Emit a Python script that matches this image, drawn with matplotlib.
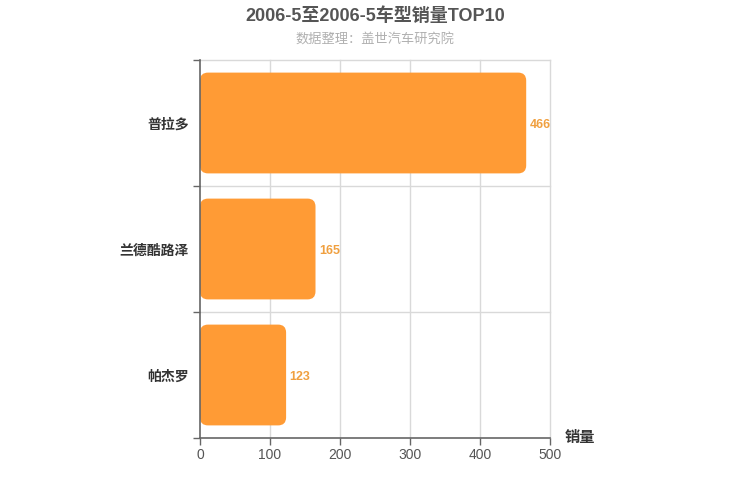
import matplotlib
matplotlib.use("Agg")
import matplotlib.pyplot as plt
from matplotlib.patches import FancyBboxPatch

plt.rcParams['font.family'] = ['Liberation Sans', 'Noto Sans CJK SC', 'DejaVu Sans']

models = ['普拉多', '兰德酷路泽', '帕杰罗']
sales = [466, 165, 123]
xticks = [0, 100, 200, 300, 400, 500]

bar_color = '#ff9b35'
label_color = '#f0a040'
axis_color = '#666666'

fig = plt.figure(figsize=(7.5, 5), dpi=100)
ax = fig.add_axes([200 / 750, 62 / 500, 350 / 750, 378 / 500])

n = len(models)
ax.set_xlim(0, 500)
ax.set_ylim(n, 0)

# rounded bars, radius given in pixels
px_x = 350 / 500
px_y = 378 / n
r = 8
for i, v in enumerate(sales):
    y0 = i + 0.1
    h = 0.8
    box = FancyBboxPatch((0, y0), v, h,
                         boxstyle='round,pad=0,rounding_size={}'.format(r / px_x),
                         mutation_aspect=(r / px_y) / (r / px_x),
                         facecolor=bar_color, edgecolor='none', zorder=3)
    ax.add_patch(box)
    ax.text(v + 5, i + 0.5, str(v), color=label_color, fontsize=9,
            fontweight='bold', va='center_baseline', ha='left', zorder=4)

# grid
for x in xticks[1:]:
    ax.axvline(x, color='#d9d9d9', lw=1, zorder=1, clip_on=False)
for k in range(0, n):
    ax.axhline(k, color='#d9d9d9', lw=1, zorder=1, clip_on=False)

ax.set_xticks(xticks)
ax.set_xticklabels([str(x) for x in xticks], color='#555555', fontsize=10)
ax.set_yticks([i + 0.5 for i in range(n)])
ax.set_yticklabels(models, color='#333333', fontsize=10, fontweight='bold')
ax.set_yticks(range(n + 1), minor=True)
ax.tick_params(axis='y', which='major', length=0, pad=8)
ax.tick_params(axis='y', which='minor', length=5, color=axis_color, width=1)
ax.tick_params(axis='x', length=5, color=axis_color, width=1, pad=2)

for s in ['top', 'right']:
    ax.spines[s].set_visible(False)
for s in ['left', 'bottom']:
    ax.spines[s].set_color(axis_color)
    ax.spines[s].set_linewidth(1.2)
    ax.spines[s].set_zorder(5)

fig.text(580 / 750, 1 - 438 / 500, '销量', fontsize=11, fontweight='bold',
         color='#333333', ha='center', va='center')

fig.text(375 / 750, 1 - 16 / 500, '2006-5至2006-5车型销量TOP10', fontsize=13,
         fontweight='bold', color='#555555', ha='center', va='center')
fig.text(375 / 750, 1 - 40 / 500, '数据整理：盖世汽车研究院', fontsize=9.5,
         color='#b0b0b0', ha='center', va='center')

fig.savefig('out.png', dpi=100)
